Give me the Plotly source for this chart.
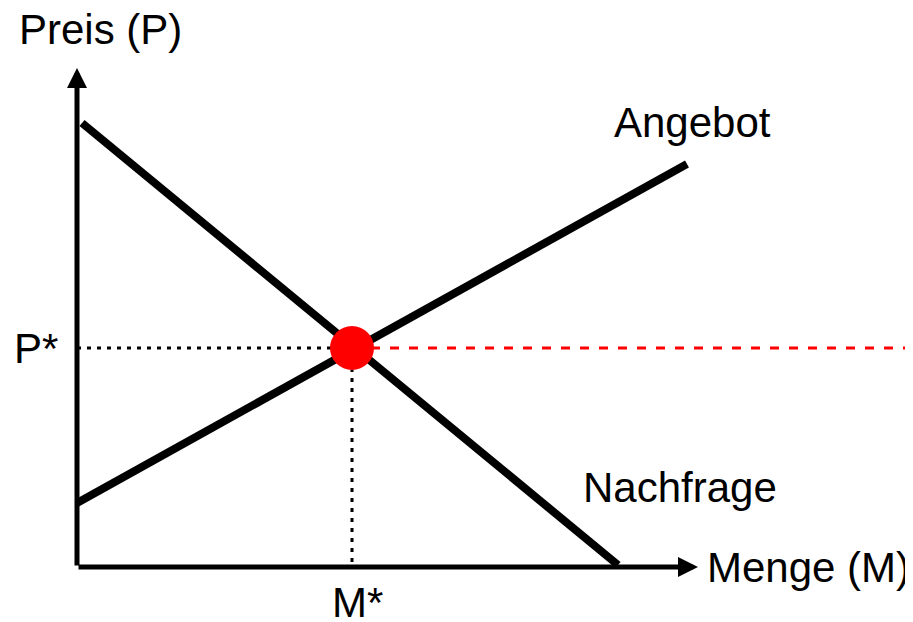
import plotly.graph_objects as go

# Angebot / Nachfrage (Menge M, Preis P) in Modell-Einheiten
demand_m = [0.5, 54.1]
demand_p = [44.4, 0.2]
supply_m = [0.0, 61.0]
supply_p = [6.4, 40.3]

# Gleichgewicht
eq_m = 27.5
eq_p = 21.9

# Achsenenden (Pfeilspitzen) und rechter Rand
axis_m_end = 62.1
axis_p_end = 49.9
m_right = 84.4

FONT = "Liberation Sans, Arial, sans-serif"

fig = go.Figure()

# P* -> Gleichgewicht (schwarz gepunktet)
fig.add_trace(go.Scatter(
    x=[0, eq_m], y=[eq_p, eq_p], mode="lines",
    line=dict(color="black", width=3, dash="4px,6px"),
))
# Gleichgewicht -> M* (schwarz gepunktet)
fig.add_trace(go.Scatter(
    x=[eq_m, eq_m], y=[eq_p, 0], mode="lines",
    line=dict(color="black", width=3, dash="4px,6px"),
))
# rote gestrichelte Linie nach rechts
fig.add_trace(go.Scatter(
    x=[eq_m, m_right], y=[eq_p, eq_p], mode="lines",
    line=dict(color="red", width=3, dash="9px,10px"),
))

# Nachfrage und Angebot
fig.add_trace(go.Scatter(
    x=demand_m, y=demand_p, mode="lines",
    line=dict(color="black", width=8),
))
fig.add_trace(go.Scatter(
    x=supply_m, y=supply_p, mode="lines",
    line=dict(color="black", width=8),
))

# Gleichgewichtspunkt
fig.add_trace(go.Scatter(
    x=[eq_m], y=[eq_p], mode="markers",
    marker=dict(color="red", size=44, line=dict(width=0)),
))

# Achsen mit Pfeilen
for tip, tail in [((0, axis_p_end), (0, 0)), ((axis_m_end, 0), (0, 0))]:
    fig.add_annotation(
        x=tip[0], y=tip[1], ax=tail[0], ay=tail[1],
        xref="x", yref="y", axref="x", ayref="y",
        text="", showarrow=True, arrowhead=2, arrowsize=0.8,
        arrowwidth=5, arrowcolor="black", standoff=0,
    )

labels = [
    ("Preis (P)", 2.3, 53.75),
    ("Angebot", 61.55, 44.45),
    ("Nachfrage", 60.3, 7.95),
    ("Menge (M)", 73.1, 0.0),
    ("P*", -4.15, eq_p),
    ("M*", 28.0, -3.55),
]
for txt, xm, yp in labels:
    fig.add_annotation(
        x=xm, y=yp, xref="x", yref="y", text=txt, showarrow=False,
        xanchor="center", yanchor="middle",
        font=dict(family=FONT, size=42, color="black"),
    )

# die Seite hat 8px Rand, daher sind die Bereiche um 8px verschoben
fig.update_layout(
    width=913, height=622,
    margin=dict(l=0, r=0, t=0, b=0),
    paper_bgcolor="white", plot_bgcolor="white",
    showlegend=False,
    xaxis=dict(range=[-6.9, 84.4], visible=False, fixedrange=True),
    yaxis=dict(range=[-6.3, 55.9], visible=False, fixedrange=True),
)

fig.write_html("out.html")
